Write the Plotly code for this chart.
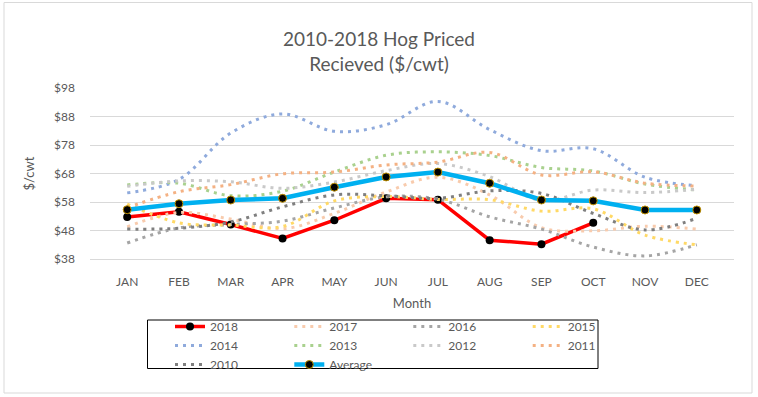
import plotly.graph_objects as go

months = ["JAN", "FEB", "MAR", "APR", "MAY", "JUN", "JUL", "AUG", "SEP", "OCT", "NOV", "DEC"]

y2018 = [52.7, 54.6, 50.1, 45.2, 51.6, 59.3, 58.8, 44.6, 43.2, 50.7, None, None]
y2017 = [49.3, 54.3, 52.0, 48.6, 54.0, 61.5, 66.7, 60.5, 49.0, 47.9, 49.5, 48.5]
y2016 = [43.6, 48.9, 50.1, 51.3, 55.9, 59.8, 59.0, 52.8, 48.5, 42.2, 39.1, 43.0]
y2015 = [57.3, 50.7, 49.9, 49.4, 58.4, 59.9, 58.9, 58.8, 54.8, 55.6, 46.4, 43.0]
y2014 = [61.2, 65.9, 82.2, 88.9, 82.8, 85.1, 93.3, 83.4, 76.0, 76.7, 66.7, 63.7]
y2013 = [64.0, 64.6, 60.2, 61.8, 68.5, 74.4, 75.6, 74.3, 70.1, 68.9, 64.3, 62.2]
y2012 = [63.5, 65.4, 65.1, 62.8, 65.0, 69.0, 71.5, 66.9, 58.5, 62.2, 61.3, 62.5]
y2011 = [56.0, 61.6, 64.1, 67.9, 68.5, 71.0, 72.0, 75.4, 67.5, 68.6, 64.6, 63.6]
y2010 = [48.5, 48.8, 51.0, 56.3, 60.5, 60.2, 59.3, 61.9, 61.0, 54.0, 48.2, 52.3]
avg = [55.3, 57.4, 58.7, 59.3, 63.2, 66.8, 68.5, 64.6, 58.7, 58.4, 55.2, 55.2]

y_ticks = [38, 48, 58, 68, 78, 88, 98]
y_tick_labels = ["$" + str(v) for v in y_ticks]

FONT = "Lato"
TXT = "#595959"
W, H = 758, 397
ML, MR, MT, MB = 90, 24, 88, 138
PW, PH = W - ML - MR, H - MT - MB


def px_x(x):
    return (x - ML) / PW


def px_y(y):
    return (H - MB - y) / PH


fig = go.Figure()

dotted = [
    ("2017", y2017, "#F8CBAD", "legend2"),
    ("2016", y2016, "#A5A5A5", "legend3"),
    ("2015", y2015, "#FFD966", "legend4"),
    ("2014", y2014, "#8FAADC", "legend"),
    ("2013", y2013, "#A9D18E", "legend2"),
    ("2012", y2012, "#C9C9C9", "legend3"),
    ("2011", y2011, "#F4B183", "legend4"),
    ("2010", y2010, "#7F7F7F", "legend"),
]

fig.add_trace(go.Scatter(
    x=months, y=y2018, name="2018", mode="lines+markers",
    line=dict(color="#FF0000", width=3.5),
    marker=dict(color="black", size=8),
    legend="legend",
))

for name, vals, col, leg in dotted:
    fig.add_trace(go.Scatter(
        x=months, y=vals, name=name, mode="lines",
        line=dict(color=col, width=3, dash="3px,5px", shape="spline", smoothing=1.0),
        legend=leg,
    ))

fig.add_trace(go.Scatter(
    x=months, y=avg, name="Average", mode="lines+markers",
    line=dict(color="#00B0F0", width=4.5),
    marker=dict(color="black", size=8, line=dict(color="#BF9000", width=1)),
    legend="legend2",
))

leg_common = dict(
    font=dict(family=FONT, size=12, color=TXT),
    bgcolor="rgba(0,0,0,0)", borderwidth=0,
    orientation="v", xanchor="left", yanchor="top",
    y=px_y(312), tracegroupgap=0,
)
text_x = [210, 329.3, 448.3, 567.7]

fig.update_layout(
    width=W, height=H,
    margin=dict(l=ML, r=MR, t=MT, b=MB, autoexpand=False),
    paper_bgcolor="white", plot_bgcolor="white",
    font=dict(family=FONT, color=TXT),
    title=dict(
        text="2010-2018 Hog Priced<br>Recieved ($/cwt)",
        font=dict(family=FONT, size=19, color=TXT),
        x=0.5, xref="container", xanchor="center",
        y=1 - 46 / H, yref="container", yanchor="middle",
    ),
    xaxis=dict(
        type="category", showgrid=False, showline=True, linecolor="#D9D9D9", linewidth=1,
        ticks="", tickfont=dict(family=FONT, size=12, color=TXT),
        ticklabelstandoff=12,
        title=dict(text="Month", font=dict(family=FONT, size=13, color=TXT), standoff=10),
        automargin=False, fixedrange=True,
    ),
    yaxis=dict(
        range=[38, 98], tickvals=y_ticks, ticktext=y_tick_labels,
        showgrid=True, gridcolor="#D9D9D9", gridwidth=1, zeroline=False,
        showline=False, ticks="", tickfont=dict(family=FONT, size=12, color=TXT),
        ticklabelstandoff=14,
        title=dict(text="$/cwt", font=dict(family=FONT, size=13, color=TXT), standoff=16),
        automargin=False, fixedrange=True,
    ),
    legend=dict(leg_common, x=px_x(text_x[0] - 40)),
    legend2=dict(leg_common, x=px_x(text_x[1] - 40)),
    legend3=dict(leg_common, x=px_x(text_x[2] - 40)),
    legend4=dict(leg_common, x=px_x(text_x[3] - 40)),
    shapes=[
        dict(type="rect", xref="paper", yref="paper",
             x0=px_x(4), x1=px_x(752), y0=px_y(393), y1=px_y(2.5),
             line=dict(color="#D9D9D9", width=1), fillcolor="rgba(0,0,0,0)", layer="below"),
        dict(type="rect", xref="paper", yref="paper",
             x0=px_x(147.5), x1=px_x(598), y0=px_y(368.5), y1=px_y(320),
             line=dict(color="black", width=1), fillcolor="rgba(0,0,0,0)", layer="above"),
    ],
    showlegend=True,
)

fig.write_html(
    "out.html",
    config={"displayModeBar": False},
    post_script="document.body.style.margin='0';document.body.style.padding='0';document.body.style.overflow='hidden';",
)
